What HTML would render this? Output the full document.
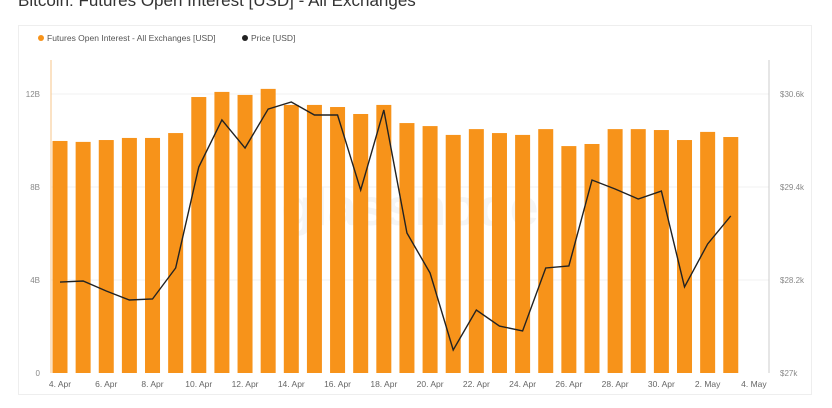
<!DOCTYPE html>
<html><head><meta charset="utf-8"><style>
body{margin:0;width:832px;height:408px;background:#fff;overflow:hidden;font-family:"Liberation Sans",sans-serif;position:relative}
#title{position:absolute;left:18px;top:-9px;font-size:17px;color:#333;white-space:nowrap}
#card{position:absolute;left:18px;top:25px;width:794px;height:370px;border:1px solid #eee;box-sizing:border-box}
</style></head><body>
<div id="title">Bitcoin: Futures Open Interest [USD] - All Exchanges</div>
<div id="card"></div>
<svg id="chart" width="832" height="408" style="position:absolute;left:0;top:0"></svg>
<script>
const oi=[9.98,9.94,10.02,10.11,10.11,10.32,11.87,12.09,11.96,12.22,11.53,11.53,11.44,11.14,11.53,10.75,10.62,10.24,10.49,10.32,10.24,10.49,9.76,9.85,10.49,10.49,10.45,10.02,10.37,10.15];
const price=[28174,28187,28058,27942,27955,28355,29658,30265,29903,30406,30497,30329,30329,29361,30394,28806,28290,27297,27813,27606,27542,28355,28381,29490,29374,29245,29348,28110,28665,29026];
const xLabels=["4. Apr","6. Apr","8. Apr","10. Apr","12. Apr","14. Apr","16. Apr","18. Apr","20. Apr","22. Apr","24. Apr","26. Apr","28. Apr","30. Apr","2. May","4. May"];
const leftTicks=[0,4,8,12];const leftTickLabels=["0","4B","8B","12B"];
const rightTicks=[27000,28200,29400,30600];const rightTickLabels=["$27k","$28.2k","$29.4k","$30.6k"];
const NS="http://www.w3.org/2000/svg";const svg=document.getElementById('chart');
const x0=60,dx=23.13,yBase=373,pxPerB=93/4;
const xs=i=>x0+i*dx;const yL=v=>yBase-v*pxPerB;const yR=p=>yBase-(p-27000)/1200*93;
function mk(t,a,p){const e=document.createElementNS(NS,t);for(const k in a)e.setAttribute(k,a[k]);(p||svg).appendChild(e);return e;}
leftTicks.forEach((v,i)=>{if(v>0){const g=mk('line',{x1:51,x2:769,y1:yL(v),y2:yL(v),stroke:'#f2f2f2'});}
const t=mk('text',{x:40,y:yL(v)+3,'font-size':8,fill:'#888','text-anchor':'end'});t.textContent=leftTickLabels[i];
});
rightTicks.forEach((v,i)=>{const t=mk('text',{x:780,y:yR(v)+3,'font-size':8,fill:'#888'});t.textContent=rightTickLabels[i];
});
const wm=mk('text',{x:410,y:225,'font-size':52,fill:'#000','fill-opacity':0.04,'text-anchor':'middle','font-weight':'bold'});wm.textContent='glassnode';

oi.forEach((v,i)=>{const r=mk('rect',{x:xs(i)-7.5,y:yL(v),width:15,height:yBase-yL(v),fill:'#f7931a'});
});
mk('line',{x1:51,x2:51,y1:60,y2:373,stroke:'#f7c58a'});
mk('line',{x1:769,x2:769,y1:60,y2:373,stroke:'#ccc'});
const pl=mk('polyline',{points:price.map((p,i)=>xs(i)+','+yR(p)).join(' '),fill:'none',stroke:'#222','stroke-width':1.4});

xLabels.forEach((l,i)=>{const t=mk('text',{x:xs(i*2),y:387,'font-size':8.5,fill:'#666','text-anchor':'middle'});t.textContent=l;
});
const lg=mk('g',{});
mk('circle',{cx:41,cy:38,r:3,fill:'#f7931a'},lg);
let t1=mk('text',{x:47,y:41,'font-size':8.5,fill:'#555'},lg);t1.textContent='Futures Open Interest - All Exchanges [USD]';

mk('circle',{cx:245,cy:38,r:3,fill:'#222'},lg);
let t2=mk('text',{x:251,y:41,'font-size':8.5,fill:'#555'},lg);t2.textContent='Price [USD]';

</script>
</body></html>
